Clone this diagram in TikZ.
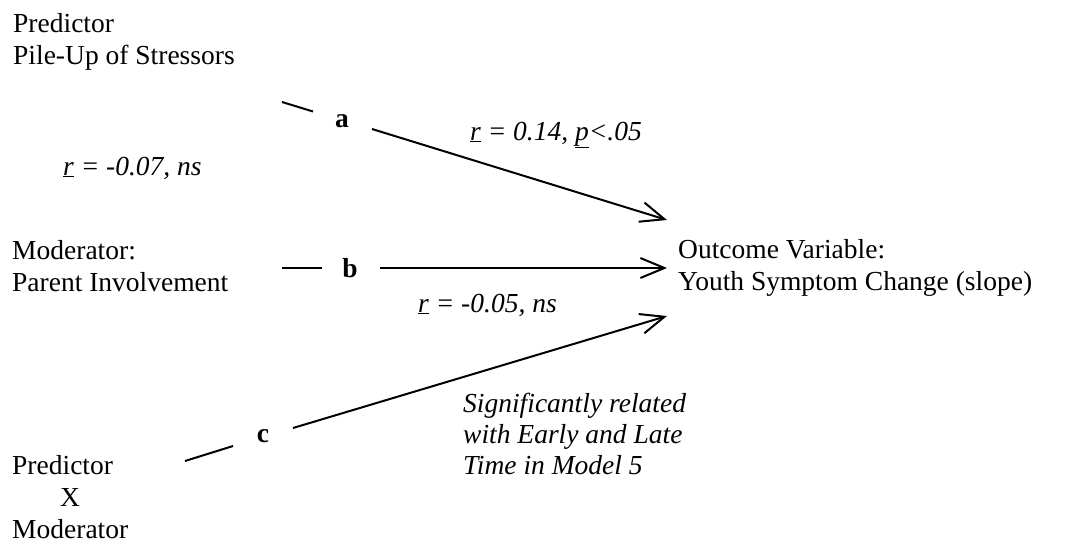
\documentclass[tikz,border=0pt]{standalone}
\usepackage{fontspec}
\setmainfont{Liberation Serif}
\usetikzlibrary{arrows.meta}
\begin{document}
\begin{tikzpicture}[x=1pt,y=-1pt,
  lbl/.style={inner sep=0pt, anchor=base west, align=left, font=\fontsize{27.5}{32}\selectfont},
  ital/.style={lbl, font=\fontsize{27.5}{31}\selectfont\itshape},
  letter/.style={inner sep=0pt, anchor=base, font=\fontsize{27.5}{32}\selectfont\bfseries},
  conn/.style={line width=2pt},
  arr/.style={conn, -{Straight Barb[length=24pt,width=20pt,line width=2pt]}}]
\useasboundingbox (0,0) rectangle (1073,544);
% texts (anchor = baseline of last line)
\node[lbl] (pred) at (13,64) {Predictor\\Pile-Up of Stressors};
\node[lbl] (mod) at (12,291) {Moderator:\\Parent Involvement};
\node[lbl] (inter) at (12,538) {Predictor\\\hspace*{48pt}X\\Moderator};
\node[lbl] (out) at (678,290) {Outcome Variable:\\Youth Symptom Change (slope)};
\node[ital] (ra) at (470,140) {\underline{r} = 0.14, \underline{p}<.05};
\node[ital] (rpm) at (63,175) {\underline{r} = -0.07, ns};
\node[ital] (rb) at (418,312) {\underline{r} = -0.05, ns};
\node[ital] (sig) at (463,474) {Significantly related\\with Early and Late\\Time in Model 5};
% path letters
\node[letter] (a) at (342,127) {a};
\node[letter] (b) at (350,277) {b};
\node[letter] (c) at (263,442) {c};
% connector end points
\coordinate (a1) at (282,102);
\coordinate (a2) at (313,111.5);
\coordinate (a3) at (372,129);
\coordinate (ta) at (667,220);
\coordinate (b1) at (282,268);
\coordinate (b2) at (322,268);
\coordinate (b3) at (380,268);
\coordinate (tb) at (667,268);
\coordinate (c1) at (185,461);
\coordinate (c2) at (233,446);
\coordinate (c3) at (293,428);
\coordinate (tc) at (667,316);
% connectors
\draw[conn] (a1) -- (a2);
\draw[arr] (a3) -- (ta);
\draw[conn] (b1) -- (b2);
\draw[arr] (b3) -- (tb);
\draw[conn] (c1) -- (c2);
\draw[arr] (c3) -- (tc);
\end{tikzpicture}
\end{document}
